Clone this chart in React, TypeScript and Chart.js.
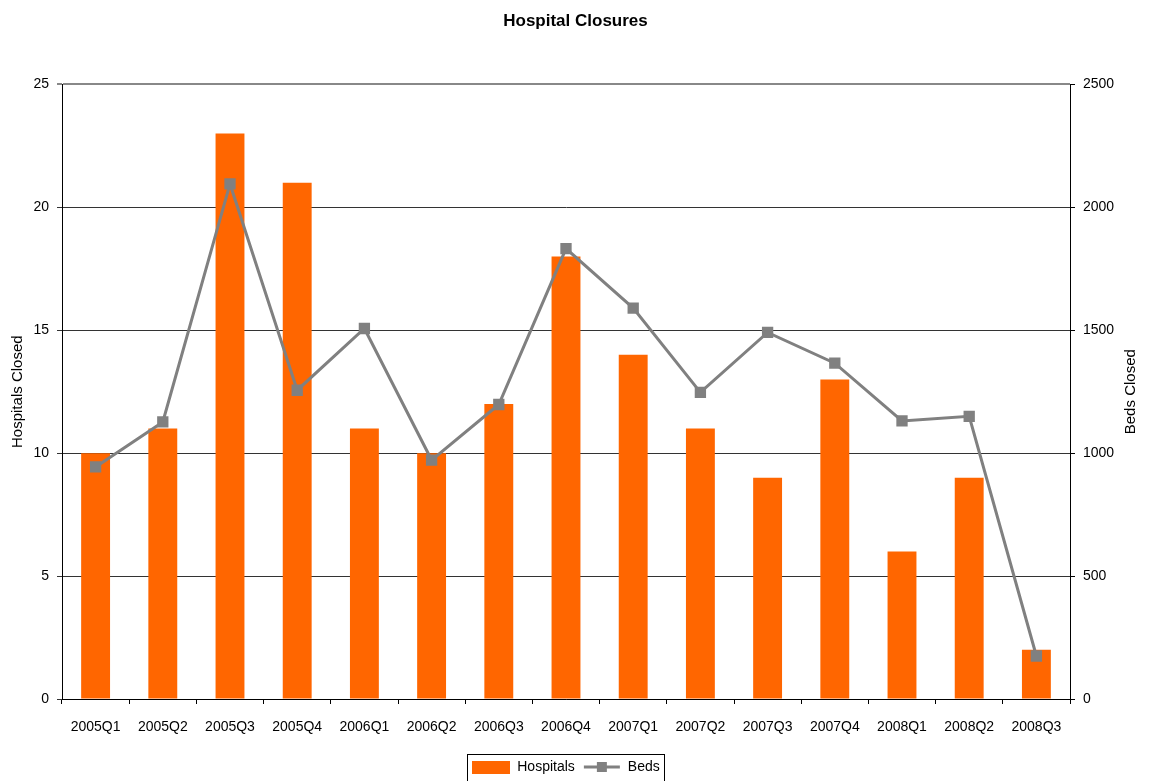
import React, { useEffect, useRef } from "react";
import { Chart, registerables } from "chart.js";

Chart.register(...registerables);

const quarters = [
  "2005Q1", "2005Q2", "2005Q3", "2005Q4",
  "2006Q1", "2006Q2", "2006Q3", "2006Q4",
  "2007Q1", "2007Q2", "2007Q3", "2007Q4",
  "2008Q1", "2008Q2", "2008Q3",
];
const hospitalsClosed = [10, 11, 23, 21, 11, 10, 12, 18, 14, 11, 9, 13, 6, 9, 2];
const bedsClosed = [944, 1127, 2095, 1256, 1507, 972, 1198, 1832, 1590, 1247, 1491, 1366, 1131, 1150, 175];
const hospitalTicks = { min: 0, max: 25, step: 5 };
const bedTicks = { min: 0, max: 2500, step: 500 };

const ORANGE = "#FF6600";
const GREY = "#808080";
const FONT = "'Liberation Sans', Arial, sans-serif";

// Legend swatches: a filled bar block and a line with a square marker.
function makeBarSwatch(): HTMLCanvasElement {
  const c = document.createElement("canvas");
  c.width = 38;
  c.height = 13;
  const g = c.getContext("2d")!;
  g.fillStyle = ORANGE;
  g.fillRect(0, 0, 38, 13);
  return c;
}

function makeLineSwatch(): HTMLCanvasElement {
  const c = document.createElement("canvas");
  c.width = 38;
  c.height = 14;
  const g = c.getContext("2d")!;
  g.strokeStyle = GREY;
  g.lineWidth = 3;
  g.beginPath();
  g.moveTo(1, 7);
  g.lineTo(37, 7);
  g.stroke();
  g.fillStyle = GREY;
  g.fillRect(14, 2, 10, 10);
  return c;
}

// Draws a thin frame around the legend items.
const legendFrame = {
  id: "legendFrame",
  afterDraw(chart: any) {
    const boxes = chart.legend?.legendHitBoxes;
    if (!boxes || !boxes.length) return;
    let l = Infinity, r = -Infinity, t = Infinity, b = -Infinity;
    for (const h of boxes) {
      l = Math.min(l, h.left);
      r = Math.max(r, h.left + h.width);
      t = Math.min(t, h.top);
      b = Math.max(b, h.top + h.height);
    }
    const ctx = chart.ctx;
    ctx.save();
    ctx.strokeStyle = "#000";
    ctx.lineWidth = 1;
    ctx.strokeRect(Math.round(l - 5) + 0.5, Math.round(t - 6) + 0.5, Math.round(r - l + 10), Math.round(b - t + 14));
    ctx.restore();
  },
};

// Right-hand axis title, reading bottom-to-top like the left one.
const rightAxisTitle = {
  id: "rightAxisTitle",
  afterDraw(chart: any) {
    const scale = chart.scales.y1;
    if (!scale) return;
    const ctx = chart.ctx;
    ctx.save();
    ctx.translate(scale.right - 20, (chart.chartArea.top + chart.chartArea.bottom) / 2);
    ctx.rotate(-Math.PI / 2);
    ctx.font = `15px ${FONT}`;
    ctx.fillStyle = "#000";
    ctx.textAlign = "center";
    ctx.textBaseline = "middle";
    ctx.fillText("Beds Closed", 0, 0);
    ctx.restore();
  },
};

export default function App() {
  const canvasRef = useRef<HTMLCanvasElement | null>(null);

  useEffect(() => {
    if (!canvasRef.current) return;
    Chart.defaults.font.family = FONT;
    Chart.defaults.color = "#000";
    const barSwatch = makeBarSwatch();
    const lineSwatch = makeLineSwatch();

    const chart = new Chart(canvasRef.current, {
      type: "bar",
      data: {
        labels: quarters,
        datasets: [
          {
            type: "line",
            label: "Beds",
            data: bedsClosed,
            yAxisID: "y1",
            borderColor: GREY,
            backgroundColor: GREY,
            borderWidth: 3,
            pointStyle: "rect",
            pointRadius: 8,
            pointBorderWidth: 0,
            pointBackgroundColor: GREY,
            tension: 0,
            order: 0,
          },
          {
            type: "bar",
            label: "Hospitals",
            data: hospitalsClosed,
            yAxisID: "y",
            backgroundColor: ORANGE,
            borderWidth: 0,
            barPercentage: 0.43,
            categoryPercentage: 1,
            order: 1,
          },
        ],
      },
      options: {
        animation: false,
        responsive: false,
        maintainAspectRatio: false,
        layout: { padding: { left: 0, right: 0, top: 0, bottom: -3 } },
        plugins: {
          title: {
            display: true,
            text: "Hospital Closures",
            color: "#000",
            font: { size: 17, weight: "bold", family: FONT },
            padding: { top: 11, bottom: 53 },
          },
          legend: {
            position: "bottom",
            fullSize: false,
            labels: {
              usePointStyle: true,
              pointStyleWidth: 38,
              boxHeight: 13,
              padding: 8,
              color: "#000",
              font: { size: 14, family: FONT },
              generateLabels: () => [
                { text: "Hospitals", pointStyle: barSwatch, fillStyle: ORANGE, strokeStyle: ORANGE, lineWidth: 0, hidden: false, datasetIndex: 1 },
                { text: "Beds", pointStyle: lineSwatch, fillStyle: GREY, strokeStyle: GREY, lineWidth: 0, hidden: false, datasetIndex: 0 },
              ],
            },
          },
          tooltip: { enabled: false },
        },
        scales: {
          x: {
            offset: true,
            grid: {
              display: true,
              offset: true,
              drawOnChartArea: false,
              drawTicks: true,
              tickLength: 5,
              color: "#000",
            },
            border: { color: "#000", width: 1 },
            ticks: { font: { size: 14 }, color: "#000", padding: 15, maxRotation: 0, autoSkip: false },
            afterFit: (s: any) => { s.height = 53; },
          },
          y: {
            position: "left",
            min: hospitalTicks.min,
            max: hospitalTicks.max,
            ticks: { stepSize: hospitalTicks.step, font: { size: 14 }, color: "#000", padding: 8 },
            grid: {
              color: (c: any) => (c.tick && c.tick.value === hospitalTicks.max ? "#888" : "#333"),
              lineWidth: (c: any) => (c.tick && c.tick.value === hospitalTicks.max ? 2 : 1),
              tickLength: 5,
              drawTicks: true,
            },
            border: { color: "#000", width: 1 },
            title: {
              display: true,
              text: "Hospitals Closed",
              color: "#000",
              font: { size: 15, family: FONT },
              padding: { top: 9, bottom: 0 },
            },
            afterFit: (s: any) => { s.width = 62; },
          },
          y1: {
            position: "right",
            min: bedTicks.min,
            max: bedTicks.max,
            ticks: {
              stepSize: bedTicks.step,
              font: { size: 14 },
              color: "#000",
              padding: 8,
              callback: (v: any) => String(v),
            },
            grid: { drawOnChartArea: false, tickLength: 5, color: "#000" },
            border: { color: "#000", width: 1 },
            afterFit: (s: any) => { s.width = 81; },
          },
        },
      },
      plugins: [legendFrame, rightAxisTitle],
    });

    return () => chart.destroy();
  }, []);

  return (
    <div style={{ position: "absolute", left: 0, top: 0, width: 1151, height: 781, background: "#fff" }}>
      <canvas ref={canvasRef} width={1151} height={781} style={{ display: "block", width: 1151, height: 781 }} />
    </div>
  );
}
